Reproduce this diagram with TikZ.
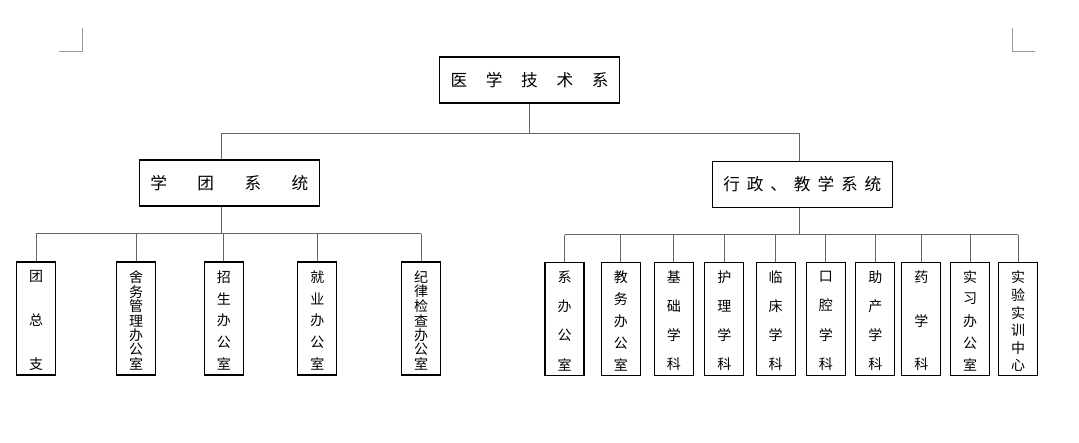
\documentclass[tikz,border=0pt]{standalone}
\usepackage{fontspec}
\setmainfont{Noto Sans CJK SC}
\usetikzlibrary{positioning}
\tikzset{
  pxgrid/.style   = {x=0.75pt, y=-0.75pt},
  tierbox/.style  = {draw, line width=0.8pt, inner sep=0pt, minimum width=135pt,
                     minimum height=34.5pt, font=\fontsize{12.5}{14}\selectfont},
  unitbox/.style  = {draw, line width=0.8pt, inner sep=0pt, minimum width=29.25pt,
                     minimum height=84.75pt, font=\fontsize{10.5}{12}\selectfont},
  conn/.style     = {draw=black!60, line width=0.6pt},
  cropmark/.style = {draw=black!40, line width=0.75pt}
}
\newcommand{\hspread}[1]{\hbox to 118.5pt{#1}}
\newcommand{\vspread}[1]{\vbox to 78pt{\offinterlineskip\kern3pt
  \foreach \c [count=\i] in #1 {\ifnum\i>1 \vfill\fi\hbox to 1.1em{\hss\c\hss}}\kern0pt}}

\begin{document}
\begin{tikzpicture}[pxgrid]
\fill[white] (0,0) rectangle (1079,443);
\useasboundingbox (0,0) rectangle (1079,443);
% ---- page corner marks ----
\draw[cropmark] (82,28) -- (82,51.5) -- (59,51.5);
\draw[cropmark] (1012,28) -- (1012,51.5) -- (1035,51.5);

% ---- top tiers ----
\node[tierbox] (root) at (529.5,80)  {\hspread{医\hfil 学\hfil 技\hfil 术\hfil 系}};
\node[tierbox] (xt)   at (229.3,183) {\hspread{学\hfil 团\hfil 系\hfil 统}};
\node[tierbox] (xz)   at (802.3,184.5) {\hspread{行\hfil 政\hfil 、\hfil 教\hfil 学\hfil 系\hfil 统}};

% ---- units ----
\foreach \x/\n/\t in {36.2/tzz/{团,总,支}, 136/sw/{舍,务,管,理,办,公,室},
    223.8/zs/{招,生,办,公,室}, 317.3/jy/{就,业,办,公,室},
    421/jl/{纪,律,检,查,办,公,室}}
  \node[unitbox] (\n) at (\x,318.5) {\vspread\t};
\foreach \x/\n/\t in {564.5/xb/{系,办,公,室}, 620.8/jw/{教,务,办,公,室},
    673.8/jc/{基,础,学,科}, 724.3/hl/{护,理,学,科}, 775.7/lc/{临,床,学,科},
    825.8/kq/{口,腔,学,科}, 875.3/zc/{助,产,学,科}, 921.3/yx/{药,学,科},
    970.2/sx/{实,习,办,公,室}, 1018/syzx/{实,验,实,训,中,心}}
  \node[unitbox] (\n) at (\x,319) {\vspread\t};

% ---- connectors ----
\coordinate (jL) at (221,133);
\coordinate (jR) at (799.5,133);
\draw[conn] (root.south) -- (root.south |- jL);
\draw[conn] (jL) -- (jR);
\draw[conn] (jL) -- (jL |- xt.north);
\draw[conn] (jR) -- (jR |- xz.north);

\coordinate (bL) at (221,233.5);
\draw[conn] (bL |- xt.south) -- (bL);
\draw[conn] (tzz.north |- bL) -- (jl.north |- bL);
\foreach \n in {tzz,sw,zs,jy,jl}
  \draw[conn] (\n.north |- bL) -- (\n.north);

\coordinate (bR) at (799.5,234.5);
\draw[conn] (bR |- xz.south) -- (bR);
\draw[conn] (xb.north |- bR) -- (syzx.north |- bR);
\foreach \n in {xb,jw,jc,hl,lc,kq,zc,yx,sx,syzx}
  \draw[conn] (\n.north |- bR) -- (\n.north);
\end{tikzpicture}
\end{document}
